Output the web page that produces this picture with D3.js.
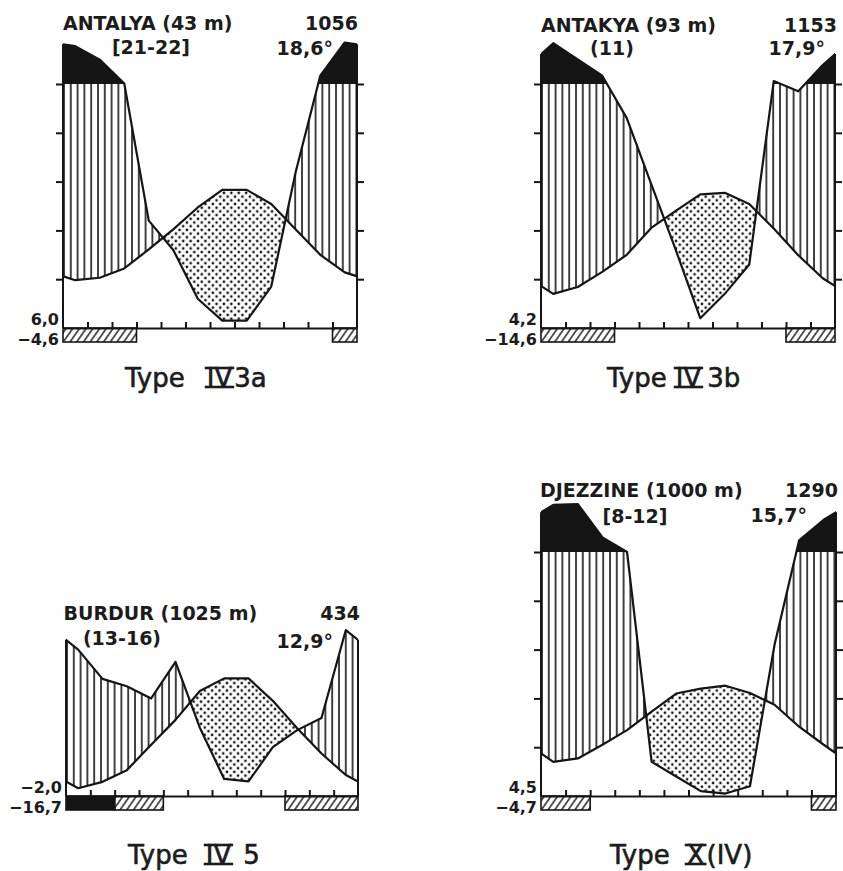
<!DOCTYPE html>
<html>
<head>
<meta charset="utf-8">
<script src="https://cdn.jsdelivr.net/npm/d3@7"></script>
<style>
  body { margin: 0; background: #fff; }
  svg text { font-family: "DejaVu Sans", sans-serif; fill: #1c1c1c; }
  .label { font-weight: bold; font-size: 19px; }
  .min-label { font-weight: bold; font-size: 16px; text-anchor: end; }
  .caption text { font-size: 26px; stroke: #1c1c1c; stroke-width: 0.6; }
  .axis path, .axis line { stroke: #151515; stroke-width: 2; }
  .curve { fill: none; stroke: #151515; stroke-width: 2.2; stroke-linejoin: round; }
</style>
</head>
<body>
<div id="chart"></div>
<script>
// ---------- values (Walter-Lieth climate diagrams) ----------
const antalyaTemp = [9.8, 10.3, 12.2, 16.1, 20.2, 24.7, 28.3, 28.3, 25.4, 20.2, 15.0, 11.4];
const antalyaPrec = [255, 200, 102, 44, 32, 12, 3, 3, 17, 64, 134, 270];

const antakyaTemp = [7.0, 8.4, 11.5, 15.0, 20.5, 24.0, 27.4, 27.7, 25.4, 20.4, 14.9, 10.2];
const antakyaPrec = [267, 201, 134, 86, 59, 32, 4, 14, 26, 112, 97, 178];

const burdurTemp = [1.6, 2.9, 5.3, 10.5, 15.6, 21.5, 24.1, 24.1, 19.5, 13.9, 8.7, 4.3];
const burdurPrec = [60, 48, 45, 40, 55, 28, 7, 6, 20, 27, 32, 68];

const djezzineTemp = [7.0, 7.7, 10.5, 13.5, 17.3, 21.0, 22.0, 22.6, 21.1, 18.7, 14.2, 10.5];
const djezzinePrec = [293, 296, 160, 100, 14, 8, 2, 1, 4, 62, 148, 232];

const stationNames = ['ANTALYA', 'ANTAKYA', 'BURDUR', 'DJEZZINE'];
const elevations = ['43 m', '93 m', '1025 m', '1000 m'];
const obsYears = ['[21-22]', '(11)', '(13-16)', '[8-12]'];
const annualPrec = ['1056', '1153', '434', '1290'];
const annualTemp = ['18,6°', '17,9°', '12,9°', '15,7°'];
const coldMonthMin = ['6,0', '4,2', '\u22122,0', '4,5'];
const absoluteMin = ['\u22124,6', '\u221214,6', '\u221216,7', '\u22124,7'];
const typeNumerals = ['IV', 'IV', 'IV', 'X'];
const typeSuffixes = ['3a', '3b', '5', '(IV)'];
// months (0 = Jan) with mean daily minimum below 0 (black) / absolute minimum below 0 (hatched)
const frostBlack = [[], [], [0, 1], []];
const frostHatch = [[0, 1, 2, 11], [0, 1, 2, 10, 11], [2, 3, 9, 10, 11], [0, 1, 11]];

const temps = [antalyaTemp, antakyaTemp, burdurTemp, djezzineTemp];
const precs = [antalyaPrec, antakyaPrec, burdurPrec, djezzinePrec];

// ---------- layout of the four panels (origin = bottom left corner of the plot) ----------
const layouts = [
  {x: 63, y: 328, width: 294, ticks: true, titleX: 0, titleY: -298, yearsX: 88, yearsY: -274.5,
   tempX: 270, tempY: -273, precX: 295, capX: 62, capY: 59, gaps: [22, 2]},
  {x: 541, y: 328, width: 294, ticks: true, titleX: 0, titleY: -296.5, yearsX: 71, yearsY: -273,
   tempX: 284, tempY: -273, precX: 296, capX: 66, capY: 59, gaps: [9, 6]},
  {x: 66, y: 796, width: 292, ticks: false, titleX: -2.5, titleY: -176, yearsX: 56, yearsY: -151,
   tempX: 267, tempY: -148, precX: 294, capX: 62, capY: 68, gaps: [18, 12]},
  {x: 541, y: 796, width: 295, ticks: true, titleX: -1, titleY: -299, yearsX: 94, yearsY: -273,
   tempX: 266, tempY: -274, precX: 297, capX: 69, capY: 68, gaps: [17, 2]}
];

class ClimateDiagram {

    constructor(_config, _data) {
        this.config = {
            parentElement: _config.parentElement,
            id: _config.id,
            layout: _config.layout,
            division: 48.8,   // 10 °C = 20 mm
            barHeight: 14
        };
        this.data = _data;
        this.initVis();
    }

    initVis() {
        let vis = this;
        const L = vis.config.layout;
        vis.width = L.width;
        vis.div = vis.config.division;

        vis.xScale = d3.scaleLinear().domain([0, 12]).range([0, vis.width]);
        vis.tempScale = d3.scaleLinear().domain([0, 50]).range([0, -5 * vis.div]);
        // above 100 mm the precipitation scale is reduced to 1/10
        vis.precScale = d3.scaleLinear().domain([0, 100, 300]).range([0, -5 * vis.div, -6 * vis.div]);

        vis.svg = d3.select(vis.config.parentElement);
        vis.defs = vis.svg.select('defs');
        vis.chart = vis.svg.append('g')
            .attr('transform', `translate(${L.x},${L.y})`);

        vis.updateVis();
    }

    updateVis() {
        let vis = this;
        const d = vis.data;
        // mid-month points; December is repeated before January and January after December
        vis.points = [{m: -0.5, t: d.temp[11], p: d.prec[11]}]
            .concat(d.temp.map((t, i) => ({m: i + 0.5, t: t, p: d.prec[i]})))
            .concat([{m: 12.5, t: d.temp[0], p: d.prec[0]}]);

        vis.xValue = p => vis.xScale(p.m);
        vis.tValue = p => vis.tempScale(p.t);
        vis.pValue = p => vis.precScale(p.p);

        const edgeT = (vis.tempScale(d.temp[0]) + vis.tempScale(d.temp[11])) / 2;
        const edgeP = (vis.precScale(d.prec[0]) + vis.precScale(d.prec[11])) / 2;
        vis.axisTop = Math.min(edgeT, edgeP);

        vis.blackRuns = vis.toRuns(d.frostBlack);
        vis.hatchRuns = vis.toRuns(d.frostHatch);

        vis.renderVis();
    }

    toRuns(months) {
        const out = [];
        months.slice().sort((a, b) => a - b).forEach(m => {
            const last = out[out.length - 1];
            if (last && last[1] === m - 1) last[1] = m;
            else out.push([m, m]);
        });
        return out;
    }

    clip(name, pathD) {
        let vis = this;
        const id = `${name}-${vis.config.id}`;
        vis.defs.append('clipPath').attr('id', id).append('path').attr('d', pathD);
        return `url(#${id})`;
    }

    renderVis() {
        let vis = this;
        const L = vis.config.layout;
        const d = vis.data;
        const w = vis.width;
        const top = -400;
        const y100 = Math.round(vis.precScale(100));

        const aboveTemp = vis.clip('above-t', d3.area().x(vis.xValue).y0(top).y1(vis.tValue)(vis.points));
        const abovePrec = vis.clip('above-p', d3.area().x(vis.xValue).y0(top).y1(vis.pValue)(vis.points));
        const below100 = vis.clip('below-100', `M0,${y100}H${w}V0H0Z`);
        const above100 = vis.clip('above-100', `M0,${top}H${w}V${y100}H0Z`);
        const box = vis.chart.append('g').attr('clip-path', vis.clip('box', `M0,${top}H${w}V0H0Z`));

        // humid season: vertical hatching between temperature and precipitation (up to 100 mm)
        box.append('g').attr('clip-path', aboveTemp)
            .append('g').attr('clip-path', below100)
            .append('path')
            .attr('d', d3.area().x(vis.xValue).y0(vis.pValue).y1(0)(vis.points))
            .attr('fill', 'url(#vhatch)');

        // arid season: dots between temperature and precipitation
        box.append('g').attr('clip-path', abovePrec)
            .append('path')
            .attr('d', d3.area().x(vis.xValue).y0(vis.tValue).y1(0)(vis.points))
            .attr('fill', 'url(#dots)');

        // perhumid season: black between the precipitation curve and the 100 mm line
        box.append('g').attr('clip-path', above100)
            .append('path')
            .attr('d', d3.area().x(vis.xValue).y0(vis.pValue).y1(y100)(vis.points))
            .attr('fill', '#151515');

        box.append('path').attr('class', 'curve')
            .attr('d', d3.line().x(vis.xValue).y(vis.tValue)(vis.points));
        box.append('path').attr('class', 'curve')
            .attr('d', d3.line().x(vis.xValue).y(vis.pValue)(vis.points));

        // frost bars under the baseline
        const bars = vis.blackRuns.map(r => ({r: r, fill: '#151515'}))
            .concat(vis.hatchRuns.map(r => ({r: r, fill: 'url(#dhatch)'})));
        vis.chart.selectAll('.frost')
            .data(bars)
            .join('rect')
            .attr('class', 'frost')
            .attr('x', b => vis.xScale(b.r[0]))
            .attr('width', b => vis.xScale(b.r[1] + 1) - vis.xScale(b.r[0]))
            .attr('y', 0)
            .attr('height', vis.config.barHeight)
            .attr('fill', b => b.fill)
            .attr('stroke', '#151515')
            .attr('stroke-width', 1.6);

        // axes
        vis.chart.append('g').attr('class', 'axis x-axis')
            .call(d3.axisTop(vis.xScale).tickValues(d3.range(1, 12)).tickSize(6).tickSizeOuter(0).tickFormat(''));

        vis.chart.append('g').attr('class', 'axis y-axis')
            .call(d3.axisLeft(vis.tempScale).tickValues(L.ticks ? [10, 20, 30, 40, 50] : []).tickSize(7).tickFormat(''))
            .call(g => g.select('.domain').remove())
            .append('line').attr('y1', 0).attr('y2', vis.axisTop);

        vis.chart.append('g').attr('class', 'axis y-axis')
            .attr('transform', `translate(${w},0)`)
            .call(d3.axisRight(vis.precScale).tickValues(L.ticks ? [20, 40, 60, 80, 100] : []).tickSize(7).tickFormat(''))
            .call(g => g.select('.domain').remove())
            .append('line').attr('y1', 0).attr('y2', vis.axisTop);

        // texts
        vis.chart.append('text').attr('class', 'label')
            .attr('x', L.titleX).attr('y', L.titleY)
            .text(`${d.name} (${d.elevation})`);
        vis.chart.append('text').attr('class', 'label')
            .attr('x', L.yearsX).attr('y', L.yearsY).attr('text-anchor', 'middle')
            .text(d.years);
        vis.chart.append('text').attr('class', 'label')
            .attr('x', L.precX).attr('y', L.titleY).attr('text-anchor', 'end')
            .text(d.annualPrec);
        vis.chart.append('text').attr('class', 'label')
            .attr('x', L.tempX).attr('y', L.tempY).attr('text-anchor', 'end')
            .text(d.annualTemp);
        vis.chart.append('text').attr('class', 'min-label')
            .attr('x', -4).attr('y', -3).text(d.coldMin);
        vis.chart.append('text').attr('class', 'min-label')
            .attr('x', -4).attr('y', 17).text(d.absMin);

        // caption "Type <roman numeral> <subtype>"
        const cap = vis.chart.append('g').attr('class', 'caption');
        const t1 = cap.append('text').attr('x', L.capX).attr('y', L.capY).text('Type');
        const nx = L.capX + t1.node().getComputedTextLength() + L.gaps[0];
        const t2 = cap.append('text').attr('x', nx).attr('y', L.capY).text(d.numeral);
        const nw = t2.node().getComputedTextLength();
        [L.capY - 19, L.capY].forEach(yy => {
            cap.append('line')
                .attr('x1', nx - 2).attr('x2', nx + nw + 2)
                .attr('y1', yy).attr('y2', yy)
                .attr('stroke', '#1c1c1c').attr('stroke-width', 2.6);
        });
        cap.append('text').attr('x', nx + nw + L.gaps[1]).attr('y', L.capY).text(d.suffix);
    }
}

const svg = d3.select('#chart').append('svg')
    .attr('width', 843)
    .attr('height', 871);

const defs = svg.append('defs');
defs.append('pattern').attr('id', 'vhatch')
    .attr('patternUnits', 'userSpaceOnUse').attr('width', 6.8).attr('height', 8)
    .append('line').attr('x1', 1).attr('x2', 1).attr('y1', 0).attr('y2', 8)
    .attr('stroke', '#151515').attr('stroke-width', 1.6);
const dots = defs.append('pattern').attr('id', 'dots')
    .attr('patternUnits', 'userSpaceOnUse').attr('width', 7.4).attr('height', 7.4);
[[1.85, 1.85], [5.55, 5.55]].forEach(c => {
    dots.append('circle').attr('cx', c[0]).attr('cy', c[1]).attr('r', 1.35).attr('fill', '#151515');
});
defs.append('pattern').attr('id', 'dhatch')
    .attr('patternUnits', 'userSpaceOnUse').attr('width', 5.5).attr('height', 5.5)
    .attr('patternTransform', 'rotate(35)')
    .append('line').attr('x1', 2.75).attr('x2', 2.75).attr('y1', 0).attr('y2', 5.5)
    .attr('stroke', '#151515').attr('stroke-width', 1.4);

stationNames.forEach((name, i) => {
    new ClimateDiagram({parentElement: svg.node(), id: i, layout: layouts[i]}, {
        name: name,
        elevation: elevations[i],
        years: obsYears[i],
        annualPrec: annualPrec[i],
        annualTemp: annualTemp[i],
        coldMin: coldMonthMin[i],
        absMin: absoluteMin[i],
        numeral: typeNumerals[i],
        suffix: typeSuffixes[i],
        frostBlack: frostBlack[i],
        frostHatch: frostHatch[i],
        temp: temps[i],
        prec: precs[i]
    });
});
</script>
</body>
</html>
